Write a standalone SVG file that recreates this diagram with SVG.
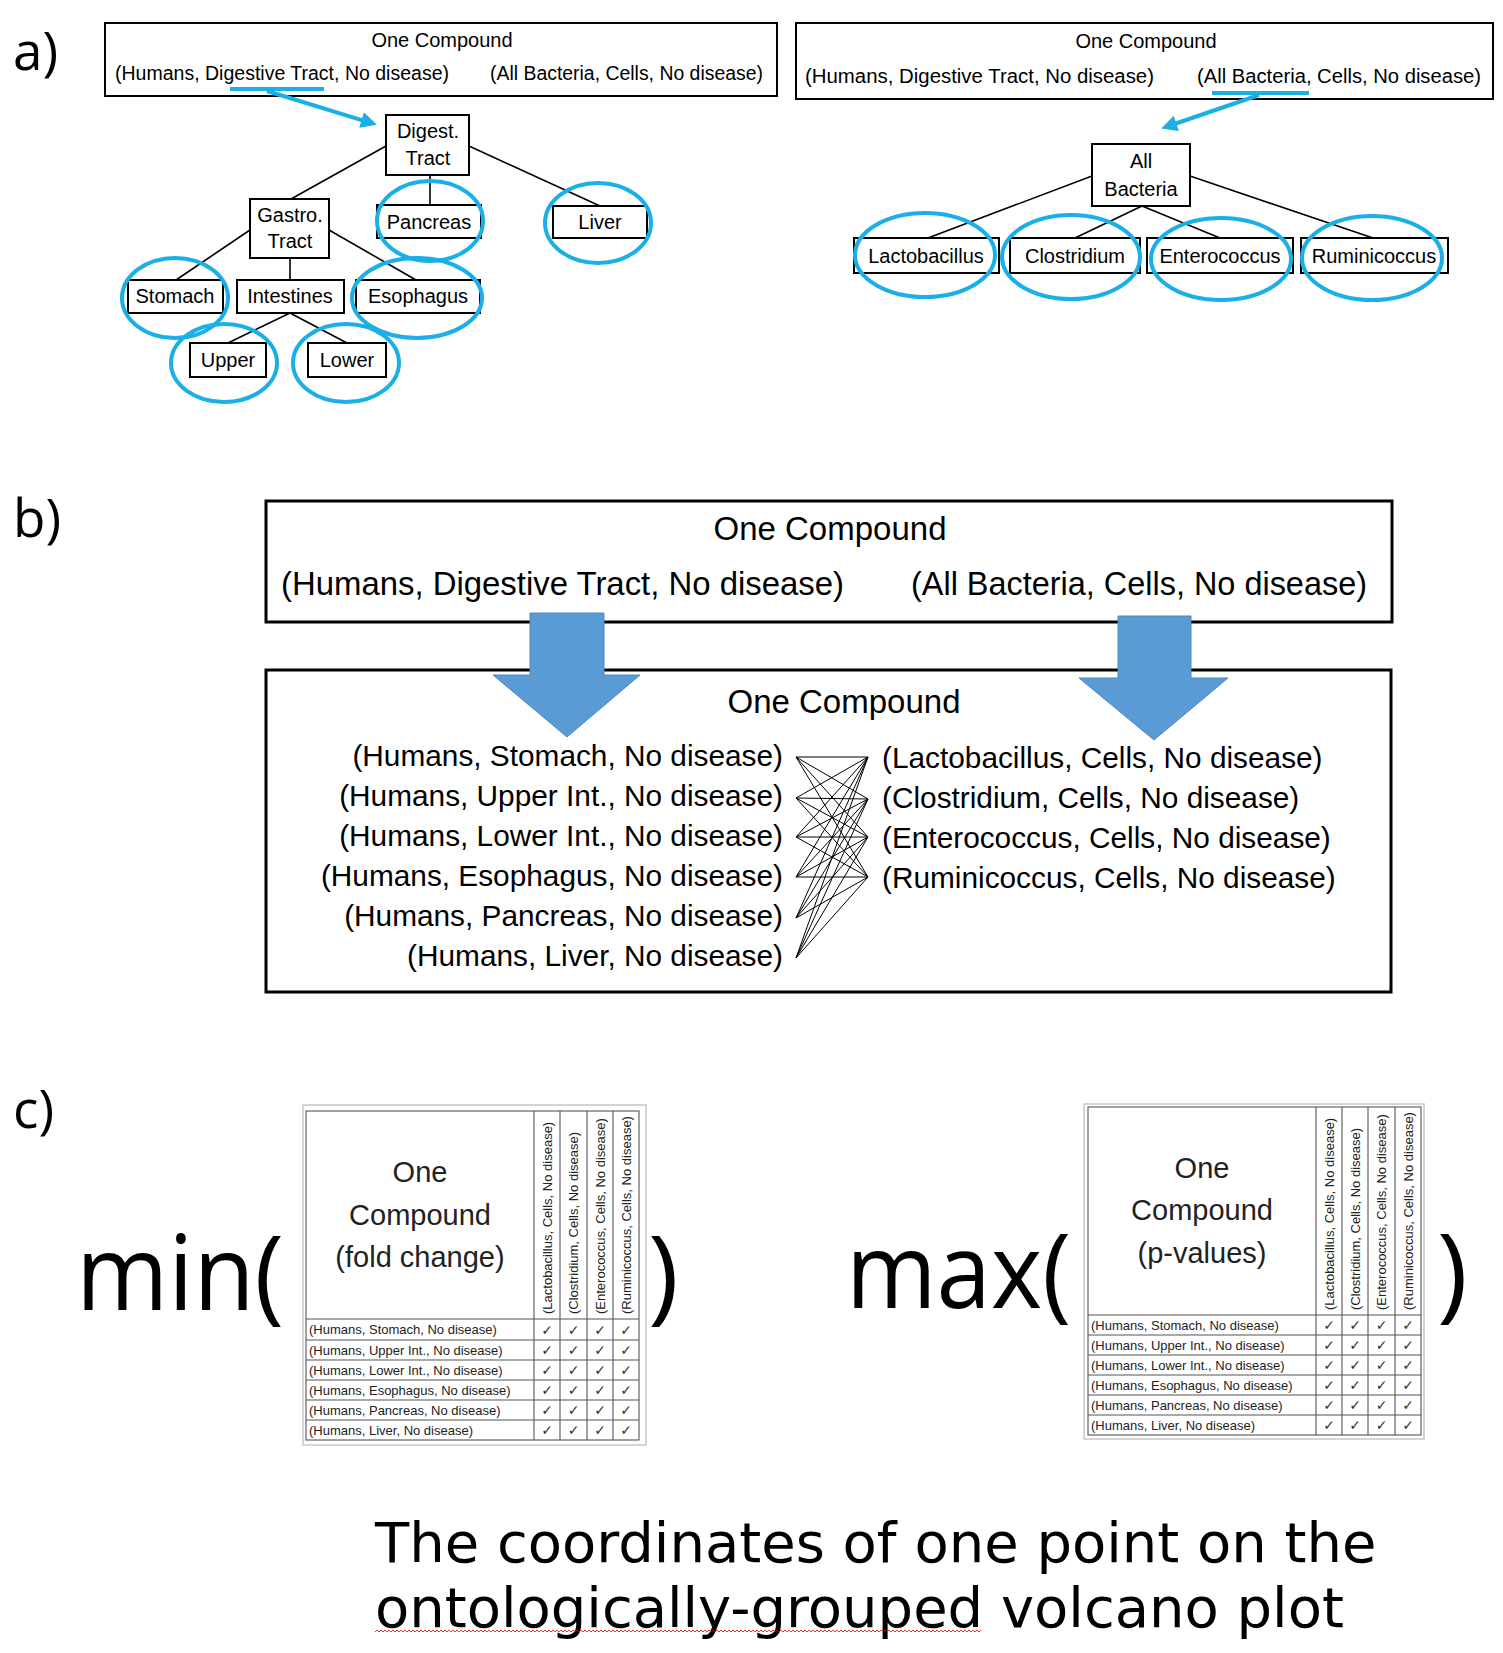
<svg xmlns="http://www.w3.org/2000/svg" width="1503" height="1653" viewBox="0 0 1503 1653">
<defs>
<style>
.sans{font-family:"Liberation Sans",Arial,sans-serif;fill:#000}
.big{font-family:"Open Sans","Noto Sans",sans-serif;fill:#000}
.dv{font-family:"DejaVu Sans",sans-serif;fill:#000}
.box{fill:#fff;stroke:#000;stroke-width:2}
.bbox{fill:none;stroke:#000;stroke-width:3}
.ring{fill:none;stroke:#1AAFE6;stroke-width:4}
.edge{fill:none;stroke:#000;stroke-width:1.6}
.blue{fill:none;stroke:#1AAFE6;stroke-width:4}
.lbl{font-size:20px;text-anchor:middle}
.mid{text-anchor:middle}
.bigarrow{fill:#5B9BD5;stroke:#4F89C0;stroke-width:1}
.tframe{fill:#fff;stroke:#c8c8c8;stroke-width:1.5}
.tline{fill:none;stroke:#555;stroke-width:1.1}
.tt{font-family:"Liberation Sans",Arial,sans-serif;fill:#222}
.chk{font-family:"DejaVu Sans",sans-serif;font-size:14px;fill:#333;text-anchor:middle}
</style>
<marker id="bluehead" viewBox="0 0 10 10" refX="7" refY="5" markerWidth="20" markerHeight="16" markerUnits="userSpaceOnUse" orient="auto">
<path d="M0,0 L10,5 L0,10 z" fill="#1AAFE6"/>
</marker>
<pattern id="squig" x="375" y="1629" width="4" height="4" patternUnits="userSpaceOnUse">
<polyline points="0,3 2,1 4,3" fill="none" stroke="#e00" stroke-width="0.8"/>
</pattern>
</defs>
<rect width="1503" height="1653" fill="#fff"/>

<!-- section labels -->
<text class="big" x="13" y="70" font-size="53">a)</text>
<text class="big" x="13" y="537" font-size="53">b)</text>
<text class="big" x="13" y="1128" font-size="53">c)</text>

<!-- ===== a) left ===== -->
<g id="a-left-header">
<rect x="105" y="23" width="672" height="73" class="box"/>
<text class="sans mid" x="442" y="47" font-size="20">One Compound</text>
<text class="sans" x="115" y="80" font-size="20" textLength="334" lengthAdjust="spacingAndGlyphs">(Humans, Digestive Tract, No disease)</text>
<text class="sans" x="490" y="80" font-size="20" textLength="273" lengthAdjust="spacingAndGlyphs">(All Bacteria, Cells, No disease)</text>
</g>
<g id="a-right-header">
<rect x="796" y="23" width="697" height="76" class="box"/>
<text class="sans mid" x="1146" y="48" font-size="20">One Compound</text>
<text class="sans" x="805" y="83" font-size="20" textLength="349" lengthAdjust="spacingAndGlyphs">(Humans, Digestive Tract, No disease)</text>
<text class="sans" x="1197" y="83" font-size="20" textLength="284" lengthAdjust="spacingAndGlyphs">(All Bacteria, Cells, No disease)</text>
</g>

<g id="connectors">
<!-- a) pointer arrows -->
<line x1="230" y1="89" x2="324" y2="89" class="blue"/>
<line x1="267" y1="91" x2="372.3" y2="123.3" class="blue" marker-end="url(#bluehead)"/>
<line x1="1212" y1="93" x2="1309" y2="93" class="blue"/>
<line x1="1259" y1="95" x2="1165.7" y2="127" class="blue" marker-end="url(#bluehead)"/>
<!-- a) left tree -->
<path class="edge" d="M386,146 L291,199 M430,175 L430,205 M469,146 L600,206 M250,230 L176,280 M290,258 L290,280 M329,230 L416,280 M290,313 L228,343 M290,313 L347,343"/>
<!-- a) right tree -->
<path class="edge" d="M1092,176 L928,238 M1142,206 L1075,238 M1142,206 L1220,238 M1190,176 L1373,238"/>
<!-- b) bipartite connections -->
<path fill="none" stroke="#000" stroke-width="1" d="M796,757 L868,757 M796,757 L868,799 M796,757 L868,837 M796,757 L868,877 M796,798 L868,757 M796,798 L868,799 M796,798 L868,837 M796,798 L868,877 M796,837 L868,757 M796,837 L868,799 M796,837 L868,837 M796,837 L868,877 M796,877 L868,757 M796,877 L868,799 M796,877 L868,837 M796,877 L868,877 M796,918 L868,757 M796,918 L868,799 M796,918 L868,837 M796,918 L868,877 M796,958 L868,757 M796,958 L868,799 M796,958 L868,837 M796,958 L868,877"/>
</g>

<!-- a) left nodes -->
<g id="n-digest"><rect x="386" y="115" width="83" height="60" class="box"/><text class="sans lbl" x="428" y="138">Digest.</text><text class="sans lbl" x="428" y="165">Tract</text></g>
<g id="n-gastro"><rect x="250" y="199" width="79" height="59" class="box"/><text class="sans lbl" x="290" y="222">Gastro.</text><text class="sans lbl" x="290" y="248">Tract</text></g>
<g id="n-pancreas"><rect x="377" y="205" width="104" height="33" class="box"/><text class="sans lbl" x="429" y="229">Pancreas</text><ellipse cx="430" cy="221" rx="53" ry="40" class="ring"/></g>
<g id="n-liver"><rect x="553" y="206" width="94" height="32" class="box"/><text class="sans lbl" x="600" y="229">Liver</text><ellipse cx="598" cy="223" rx="53" ry="40" class="ring"/></g>
<g id="n-stomach"><rect x="128" y="280" width="95" height="33" class="box"/><text class="sans lbl" x="175" y="303">Stomach</text><ellipse cx="175" cy="298" rx="53" ry="40" class="ring"/></g>
<g id="n-intestines"><rect x="237" y="280" width="107" height="33" class="box"/><text class="sans lbl" x="290" y="303">Intestines</text></g>
<g id="n-esophagus"><rect x="356" y="280" width="124" height="33" class="box"/><text class="sans lbl" x="418" y="303">Esophagus</text><ellipse cx="417" cy="298" rx="65" ry="40" class="ring"/></g>
<g id="n-upper"><rect x="190" y="343" width="76" height="34" class="box"/><text class="sans lbl" x="228" y="367">Upper</text><ellipse cx="224" cy="363" rx="53" ry="39" class="ring"/></g>
<g id="n-lower"><rect x="308" y="343" width="78" height="34" class="box"/><text class="sans lbl" x="347" y="367">Lower</text><ellipse cx="346" cy="363" rx="53" ry="39" class="ring"/></g>

<!-- a) right nodes -->
<g id="n-allbacteria"><rect x="1092" y="144" width="98" height="62" class="box"/><text class="sans lbl" x="1141" y="168">All</text><text class="sans lbl" x="1141" y="196">Bacteria</text></g>
<g id="n-lacto"><rect x="854" y="238" width="145" height="35" class="box"/><text class="sans lbl" x="926" y="263">Lactobacillus</text><ellipse cx="925" cy="255" rx="70" ry="42" class="ring"/></g>
<g id="n-clostridium"><rect x="1010" y="238" width="130" height="35" class="box"/><text class="sans lbl" x="1075" y="263">Clostridium</text><ellipse cx="1071" cy="257" rx="69" ry="42" class="ring"/></g>
<g id="n-entero"><rect x="1147" y="238" width="146" height="35" class="box"/><text class="sans lbl" x="1220" y="263">Enterococcus</text><ellipse cx="1221" cy="259" rx="70" ry="41" class="ring"/></g>
<g id="n-rumin"><rect x="1301" y="238" width="147" height="35" class="box"/><text class="sans lbl" x="1374" y="263">Ruminicoccus</text><ellipse cx="1372" cy="258" rx="70" ry="42" class="ring"/></g>

<!-- ===== b) ===== -->
<g id="b-top">
<rect x="266" y="501" width="1126" height="121" class="bbox"/>
<text class="sans mid" x="830" y="540" font-size="33">One Compound</text>
<text class="sans" x="281" y="595" font-size="33" textLength="563" lengthAdjust="spacingAndGlyphs">(Humans, Digestive Tract, No disease)</text>
<text class="sans" x="911" y="595" font-size="33" textLength="456" lengthAdjust="spacingAndGlyphs">(All Bacteria, Cells, No disease)</text>
</g>
<g id="b-bottom">
<rect x="266" y="670" width="1125" height="322" class="bbox"/>
<text class="sans mid" x="844" y="713" font-size="33">One Compound</text>
<g class="sans" font-size="29.8" text-anchor="end">
<text x="783" y="766">(Humans, Stomach, No disease)</text>
<text x="783" y="806">(Humans, Upper Int., No disease)</text>
<text x="783" y="846">(Humans, Lower Int., No disease)</text>
<text x="783" y="886">(Humans, Esophagus, No disease)</text>
<text x="783" y="926">(Humans, Pancreas, No disease)</text>
<text x="783" y="966">(Humans, Liver, No disease)</text>
</g>
<g class="sans" font-size="29.8">
<text x="882" y="768">(Lactobacillus, Cells, No disease)</text>
<text x="882" y="808">(Clostridium, Cells, No disease)</text>
<text x="882" y="848">(Enterococcus, Cells, No disease)</text>
<text x="882" y="888">(Ruminicoccus, Cells, No disease)</text>
</g>
</g>
<g id="b-arrows">
<polygon class="bigarrow" points="530,613 604,613 604,675 640,675 567,737 493,675 530,675"/>
<polygon class="bigarrow" points="1118,616 1191,616 1191,678 1228,678 1154,740 1079,678 1118,678"/>
</g>

<!-- ===== c) ===== -->
<text class="big" x="76" y="1310" font-size="104" textLength="208" lengthAdjust="spacingAndGlyphs">min(</text>
<text class="big" x="648" y="1310" font-size="104">)</text>
<text class="big" x="846" y="1308" font-size="104" textLength="225" lengthAdjust="spacingAndGlyphs">max(</text>
<text class="big" x="1437" y="1308" font-size="104">)</text>

<g id="table-fold-change">
<rect x="303" y="1105" width="343" height="340" class="tframe"/>
<rect x="306" y="1111" width="333" height="329" class="tline" stroke-width="1.3"/>
<path class="tline" d="M534,1111V1440 M560,1111V1440 M587,1111V1440 M613,1111V1440 M306,1319H639 M306,1340H639 M306,1360H639 M306,1380H639 M306,1400H639 M306,1420H639"/>
<text class="tt mid" x="420" y="1182" font-size="29">One</text>
<text class="tt mid" x="420" y="1225" font-size="29">Compound</text>
<text class="tt mid" x="420" y="1267" font-size="29">(fold change)</text>
<g class="tt" font-size="13">
<text transform="translate(551.5,1314) rotate(-90)">(Lactobacillus, Cells, No disease)</text>
<text transform="translate(578,1314) rotate(-90)">(Clostridium, Cells, No disease)</text>
<text transform="translate(604.5,1314) rotate(-90)">(Enterococcus, Cells, No disease)</text>
<text transform="translate(630.5,1314) rotate(-90)">(Ruminicoccus, Cells, No disease)</text>
<text x="309" y="1334">(Humans, Stomach, No disease)</text>
<text x="309" y="1354.5">(Humans, Upper Int., No disease)</text>
<text x="309" y="1374.5">(Humans, Lower Int., No disease)</text>
<text x="309" y="1394.5">(Humans, Esophagus, No disease)</text>
<text x="309" y="1414.5">(Humans, Pancreas, No disease)</text>
<text x="309" y="1434.5">(Humans, Liver, No disease)</text>
</g>
<text class="chk" x="547 573.5 600 626" y="1334.5">✓✓✓✓</text>
<text class="chk" x="547 573.5 600 626" y="1355">✓✓✓✓</text>
<text class="chk" x="547 573.5 600 626" y="1375">✓✓✓✓</text>
<text class="chk" x="547 573.5 600 626" y="1395">✓✓✓✓</text>
<text class="chk" x="547 573.5 600 626" y="1415">✓✓✓✓</text>
<text class="chk" x="547 573.5 600 626" y="1435">✓✓✓✓</text>
</g>

<g id="table-p-values">
<rect x="1084" y="1104" width="340" height="335" class="tframe"/>
<rect x="1088" y="1107" width="333" height="328" class="tline" stroke-width="1.3"/>
<path class="tline" d="M1316,1107V1435 M1342,1107V1435 M1368,1107V1435 M1395,1107V1435 M1088,1315H1421 M1088,1335H1421 M1088,1355H1421 M1088,1375H1421 M1088,1395H1421 M1088,1415H1421"/>
<text class="tt mid" x="1202" y="1178" font-size="29">One</text>
<text class="tt mid" x="1202" y="1220" font-size="29">Compound</text>
<text class="tt mid" x="1202" y="1263" font-size="29">(p-values)</text>
<g class="tt" font-size="13">
<text transform="translate(1333.5,1310) rotate(-90)">(Lactobacillus, Cells, No disease)</text>
<text transform="translate(1359.5,1310) rotate(-90)">(Clostridium, Cells, No disease)</text>
<text transform="translate(1386,1310) rotate(-90)">(Enterococcus, Cells, No disease)</text>
<text transform="translate(1412.5,1310) rotate(-90)">(Ruminicoccus, Cells, No disease)</text>
<text x="1091" y="1329.5">(Humans, Stomach, No disease)</text>
<text x="1091" y="1349.5">(Humans, Upper Int., No disease)</text>
<text x="1091" y="1369.5">(Humans, Lower Int., No disease)</text>
<text x="1091" y="1389.5">(Humans, Esophagus, No disease)</text>
<text x="1091" y="1409.5">(Humans, Pancreas, No disease)</text>
<text x="1091" y="1429.5">(Humans, Liver, No disease)</text>
</g>
<text class="chk" x="1329 1355 1381.5 1408" y="1330">✓✓✓✓</text>
<text class="chk" x="1329 1355 1381.5 1408" y="1350">✓✓✓✓</text>
<text class="chk" x="1329 1355 1381.5 1408" y="1370">✓✓✓✓</text>
<text class="chk" x="1329 1355 1381.5 1408" y="1390">✓✓✓✓</text>
<text class="chk" x="1329 1355 1381.5 1408" y="1410">✓✓✓✓</text>
<text class="chk" x="1329 1355 1381.5 1408" y="1430">✓✓✓✓</text>
</g>

<text class="dv" x="375" y="1562" font-size="56">The coordinates of one point on the</text>
<text class="dv" x="375" y="1627" font-size="56">ontologically-grouped volcano plot</text>
<rect x="375" y="1629" width="606" height="4" fill="url(#squig)"/>
</svg>
